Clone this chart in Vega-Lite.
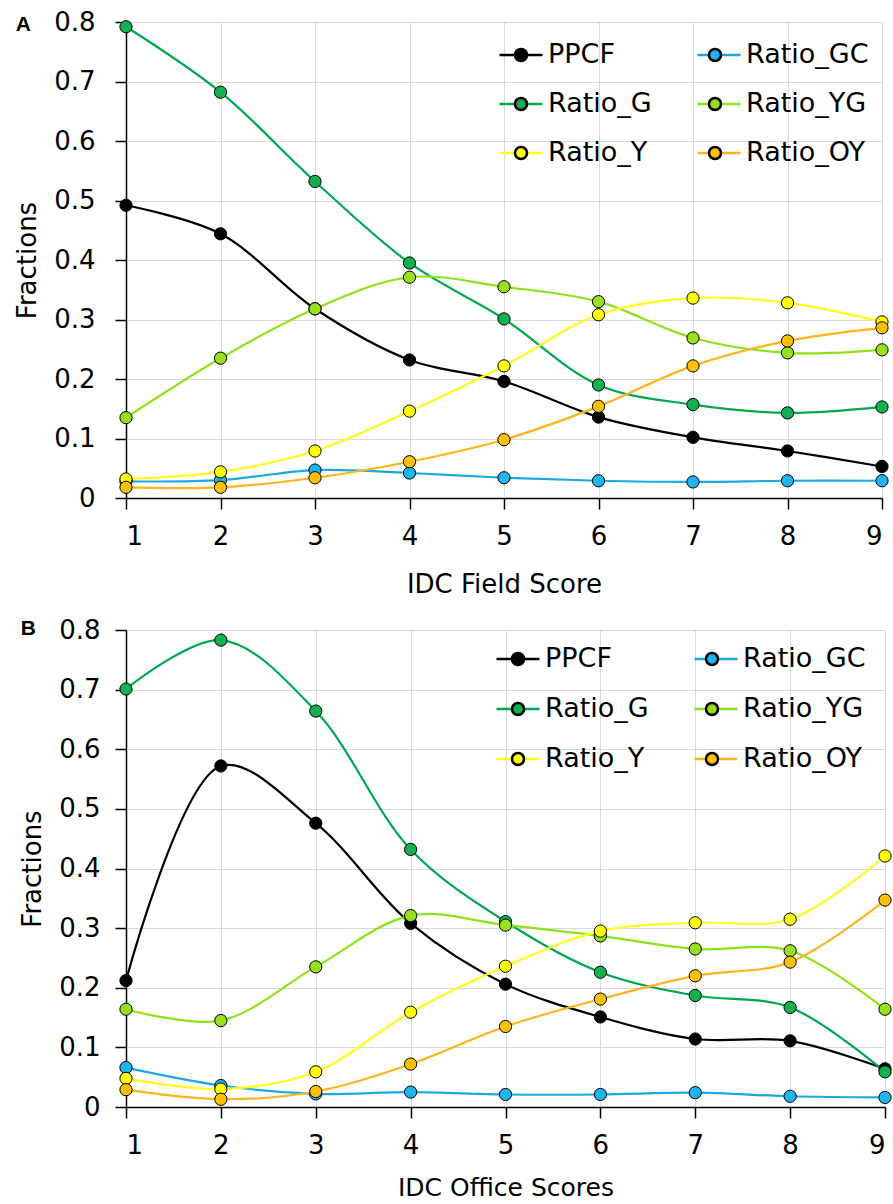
{
  "$schema": "https://vega.github.io/schema/vega-lite/v6.json",
  "background": "white",
  "padding": {"left": 14, "top": 9, "right": 0, "bottom": 0},
  "config": {
    "font": "DejaVu Sans",
    "view": {"stroke": null},
    "axis": {
      "labelFont": "DejaVu Sans", "titleFont": "DejaVu Sans",
      "labelColor": "black", "titleColor": "black", "titleFontWeight": "normal",
      "gridColor": "#d9d9d9", "gridWidth": 1,
      "domainColor": "black", "tickColor": "black", "domainWidth": 1.5, "tickWidth": 1.5
    },
    "title": {"font": "Liberation Sans", "fontWeight": "bold", "fontSize": 21, "color": "black"}
  },
  "datasets": {
    "d": [
      {"panel": "A", "score": 1, "series": "PPCF", "value": 0.492},
      {"panel": "A", "score": 2, "series": "PPCF", "value": 0.444},
      {"panel": "A", "score": 3, "series": "PPCF", "value": 0.318},
      {"panel": "A", "score": 4, "series": "PPCF", "value": 0.232},
      {"panel": "A", "score": 5, "series": "PPCF", "value": 0.196},
      {"panel": "A", "score": 6, "series": "PPCF", "value": 0.136},
      {"panel": "A", "score": 7, "series": "PPCF", "value": 0.102},
      {"panel": "A", "score": 8, "series": "PPCF", "value": 0.079},
      {"panel": "A", "score": 9, "series": "PPCF", "value": 0.053},
      {"panel": "A", "score": 1, "series": "Ratio_GC", "value": 0.028},
      {"panel": "A", "score": 2, "series": "Ratio_GC", "value": 0.030},
      {"panel": "A", "score": 3, "series": "Ratio_GC", "value": 0.047},
      {"panel": "A", "score": 4, "series": "Ratio_GC", "value": 0.042},
      {"panel": "A", "score": 5, "series": "Ratio_GC", "value": 0.034},
      {"panel": "A", "score": 6, "series": "Ratio_GC", "value": 0.029},
      {"panel": "A", "score": 7, "series": "Ratio_GC", "value": 0.027},
      {"panel": "A", "score": 8, "series": "Ratio_GC", "value": 0.029},
      {"panel": "A", "score": 9, "series": "Ratio_GC", "value": 0.029},
      {"panel": "A", "score": 1, "series": "Ratio_G", "value": 0.792},
      {"panel": "A", "score": 2, "series": "Ratio_G", "value": 0.682},
      {"panel": "A", "score": 3, "series": "Ratio_G", "value": 0.532},
      {"panel": "A", "score": 4, "series": "Ratio_G", "value": 0.395},
      {"panel": "A", "score": 5, "series": "Ratio_G", "value": 0.301},
      {"panel": "A", "score": 6, "series": "Ratio_G", "value": 0.190},
      {"panel": "A", "score": 7, "series": "Ratio_G", "value": 0.157},
      {"panel": "A", "score": 8, "series": "Ratio_G", "value": 0.143},
      {"panel": "A", "score": 9, "series": "Ratio_G", "value": 0.153},
      {"panel": "A", "score": 1, "series": "Ratio_YG", "value": 0.135},
      {"panel": "A", "score": 2, "series": "Ratio_YG", "value": 0.235},
      {"panel": "A", "score": 3, "series": "Ratio_YG", "value": 0.318},
      {"panel": "A", "score": 4, "series": "Ratio_YG", "value": 0.371},
      {"panel": "A", "score": 5, "series": "Ratio_YG", "value": 0.355},
      {"panel": "A", "score": 6, "series": "Ratio_YG", "value": 0.330},
      {"panel": "A", "score": 7, "series": "Ratio_YG", "value": 0.269},
      {"panel": "A", "score": 8, "series": "Ratio_YG", "value": 0.244},
      {"panel": "A", "score": 9, "series": "Ratio_YG", "value": 0.249},
      {"panel": "A", "score": 1, "series": "Ratio_Y", "value": 0.032},
      {"panel": "A", "score": 2, "series": "Ratio_Y", "value": 0.044},
      {"panel": "A", "score": 3, "series": "Ratio_Y", "value": 0.079},
      {"panel": "A", "score": 4, "series": "Ratio_Y", "value": 0.146},
      {"panel": "A", "score": 5, "series": "Ratio_Y", "value": 0.222},
      {"panel": "A", "score": 6, "series": "Ratio_Y", "value": 0.308},
      {"panel": "A", "score": 7, "series": "Ratio_Y", "value": 0.336},
      {"panel": "A", "score": 8, "series": "Ratio_Y", "value": 0.328},
      {"panel": "A", "score": 9, "series": "Ratio_Y", "value": 0.296},
      {"panel": "A", "score": 1, "series": "Ratio_OY", "value": 0.018},
      {"panel": "A", "score": 2, "series": "Ratio_OY", "value": 0.018},
      {"panel": "A", "score": 3, "series": "Ratio_OY", "value": 0.034},
      {"panel": "A", "score": 4, "series": "Ratio_OY", "value": 0.061},
      {"panel": "A", "score": 5, "series": "Ratio_OY", "value": 0.098},
      {"panel": "A", "score": 6, "series": "Ratio_OY", "value": 0.154},
      {"panel": "A", "score": 7, "series": "Ratio_OY", "value": 0.222},
      {"panel": "A", "score": 8, "series": "Ratio_OY", "value": 0.264},
      {"panel": "A", "score": 9, "series": "Ratio_OY", "value": 0.286},
      {"panel": "B", "score": 1, "series": "PPCF", "value": 0.212},
      {"panel": "B", "score": 2, "series": "PPCF", "value": 0.572},
      {"panel": "B", "score": 3, "series": "PPCF", "value": 0.476},
      {"panel": "B", "score": 4, "series": "PPCF", "value": 0.308},
      {"panel": "B", "score": 5, "series": "PPCF", "value": 0.206},
      {"panel": "B", "score": 6, "series": "PPCF", "value": 0.151},
      {"panel": "B", "score": 7, "series": "PPCF", "value": 0.114},
      {"panel": "B", "score": 8, "series": "PPCF", "value": 0.111},
      {"panel": "B", "score": 9, "series": "PPCF", "value": 0.064},
      {"panel": "B", "score": 1, "series": "Ratio_GC", "value": 0.066},
      {"panel": "B", "score": 2, "series": "Ratio_GC", "value": 0.036},
      {"panel": "B", "score": 3, "series": "Ratio_GC", "value": 0.022},
      {"panel": "B", "score": 4, "series": "Ratio_GC", "value": 0.025},
      {"panel": "B", "score": 5, "series": "Ratio_GC", "value": 0.021},
      {"panel": "B", "score": 6, "series": "Ratio_GC", "value": 0.021},
      {"panel": "B", "score": 7, "series": "Ratio_GC", "value": 0.024},
      {"panel": "B", "score": 8, "series": "Ratio_GC", "value": 0.018},
      {"panel": "B", "score": 9, "series": "Ratio_GC", "value": 0.016},
      {"panel": "B", "score": 1, "series": "Ratio_G", "value": 0.701},
      {"panel": "B", "score": 2, "series": "Ratio_G", "value": 0.783},
      {"panel": "B", "score": 3, "series": "Ratio_G", "value": 0.664},
      {"panel": "B", "score": 4, "series": "Ratio_G", "value": 0.432},
      {"panel": "B", "score": 5, "series": "Ratio_G", "value": 0.311},
      {"panel": "B", "score": 6, "series": "Ratio_G", "value": 0.226},
      {"panel": "B", "score": 7, "series": "Ratio_G", "value": 0.187},
      {"panel": "B", "score": 8, "series": "Ratio_G", "value": 0.167},
      {"panel": "B", "score": 9, "series": "Ratio_G", "value": 0.059},
      {"panel": "B", "score": 1, "series": "Ratio_YG", "value": 0.164},
      {"panel": "B", "score": 2, "series": "Ratio_YG", "value": 0.145},
      {"panel": "B", "score": 3, "series": "Ratio_YG", "value": 0.235},
      {"panel": "B", "score": 4, "series": "Ratio_YG", "value": 0.321},
      {"panel": "B", "score": 5, "series": "Ratio_YG", "value": 0.305},
      {"panel": "B", "score": 6, "series": "Ratio_YG", "value": 0.287},
      {"panel": "B", "score": 7, "series": "Ratio_YG", "value": 0.265},
      {"panel": "B", "score": 8, "series": "Ratio_YG", "value": 0.262},
      {"panel": "B", "score": 9, "series": "Ratio_YG", "value": 0.164},
      {"panel": "B", "score": 1, "series": "Ratio_Y", "value": 0.048},
      {"panel": "B", "score": 2, "series": "Ratio_Y", "value": 0.030},
      {"panel": "B", "score": 3, "series": "Ratio_Y", "value": 0.059},
      {"panel": "B", "score": 4, "series": "Ratio_Y", "value": 0.159},
      {"panel": "B", "score": 5, "series": "Ratio_Y", "value": 0.236},
      {"panel": "B", "score": 6, "series": "Ratio_Y", "value": 0.295},
      {"panel": "B", "score": 7, "series": "Ratio_Y", "value": 0.309},
      {"panel": "B", "score": 8, "series": "Ratio_Y", "value": 0.315},
      {"panel": "B", "score": 9, "series": "Ratio_Y", "value": 0.421},
      {"panel": "B", "score": 1, "series": "Ratio_OY", "value": 0.029},
      {"panel": "B", "score": 2, "series": "Ratio_OY", "value": 0.013},
      {"panel": "B", "score": 3, "series": "Ratio_OY", "value": 0.026},
      {"panel": "B", "score": 4, "series": "Ratio_OY", "value": 0.072},
      {"panel": "B", "score": 5, "series": "Ratio_OY", "value": 0.135},
      {"panel": "B", "score": 6, "series": "Ratio_OY", "value": 0.181},
      {"panel": "B", "score": 7, "series": "Ratio_OY", "value": 0.220},
      {"panel": "B", "score": 8, "series": "Ratio_OY", "value": 0.243},
      {"panel": "B", "score": 9, "series": "Ratio_OY", "value": 0.347}
    ]
  },
  "spacing": 20,
  "align": "none",
  "resolve": {
    "scale": {"stroke": "independent", "fill": "independent"},
    "legend": {"stroke": "independent", "fill": "independent"}
  },
  "vconcat": [
    {
      "width": 756, "height": 476,
      "title": {"text": "A", "anchor": "start", "frame": "bounds", "dy": 30, "dx": 1},
      "data": {"name": "d"},
      "transform": [{"filter": "datum.panel == 'A'"}],
      "encoding": {
        "x": {"field": "score", "type": "quantitative", "scale": {"domain": [1, 9], "nice": false, "zero": false},
          "axis": {"values": [1, 2, 3, 4, 5, 6, 7, 8, 9], "format": "d", "title": "IDC Field Score", "grid": true,
            "labelFontSize": 26, "tickSize": 11, "labelPadding": 14, "titleFontSize": 26, "titlePadding": 22}},
        "y": {"field": "value", "type": "quantitative", "scale": {"domain": [0, 0.8], "nice": false},
          "axis": {"values": [0, 0.1, 0.2, 0.3, 0.4, 0.5, 0.6, 0.7, 0.8], "labelExpr": "datum.value == 0 ? '0' : format(datum.value, '.1f')",
            "title": "Fractions", "grid": true, "labelFontSize": 26, "tickSize": 11, "labelPadding": 20, "titleFontSize": 26, "titlePadding": 13}}
      },
      "layer": [
        {
          "mark": {"type": "line", "interpolate": "catmull-rom", "strokeWidth": 2.2},
          "encoding": {
            "stroke": {"field": "series", "type": "nominal",
              "scale": {"domain": ["PPCF", "Ratio_G", "Ratio_Y", "Ratio_GC", "Ratio_YG", "Ratio_OY"],
                "range": ["#000000", "#00A650", "#FFFF1A", "#1BA9E0", "#8EE21A", "#FFB41C"]},
              "legend": {"title": null, "orient": "none", "legendX": 372, "legendY": 10, "columns": 2,
                "symbolType": "M-1,0H1", "symbolSize": 1849, "symbolStrokeWidth": 2.5,
                "labelFontSize": 27, "labelFont": "DejaVu Sans", "labelColor": "black", "labelOffset": 4,
                "rowPadding": 13, "columnPadding": 40, "labelLimit": 300}}
          }
        },
        {
          "mark": {"type": "point", "shape": "circle", "filled": true, "size": 150, "stroke": "black", "strokeWidth": 1, "opacity": 1, "fillOpacity": 1, "strokeOpacity": 1},
          "encoding": {
            "fill": {"field": "series", "type": "nominal",
              "scale": {"domain": ["PPCF", "Ratio_G", "Ratio_Y", "Ratio_GC", "Ratio_YG", "Ratio_OY", "none"],
                "range": ["#000000", "#12B050", "#FFFF00", "#1EB4F0", "#96E01E", "#FFC000", "#ffffff"]},
              "legend": {"title": null, "orient": "none", "legendX": 372, "legendY": 10, "columns": 2,
                "values": ["PPCF", "Ratio_G", "Ratio_Y", "Ratio_GC", "Ratio_YG", "Ratio_OY"],
                "labelExpr": "''",
                "symbolType": "M0.28,0A0.28,0.28 0 1,1 -0.28,0A0.28,0.28 0 1,1 0.28,0Z", "symbolSize": 1849,
                "symbolStrokeWidth": 2.5, "symbolStrokeColor": "black",
                "labelFontSize": 27, "labelFont": "DejaVu Sans", "labelColor": "black", "labelOffset": 4,
                "rowPadding": 13, "columnPadding": 144, "labelLimit": 300,
                "encode": {"symbols": {"update": {"stroke": {"value": "black"}, "strokeWidth": {"value": 1}}}}}}
          }
        }
      ]
    },
    {
      "width": 759, "height": 477,
      "title": {"text": "B", "anchor": "start", "frame": "bounds", "dy": 26, "dx": 1},
      "data": {"name": "d"},
      "transform": [{"filter": "datum.panel == 'B'"}],
      "encoding": {
        "x": {"field": "score", "type": "quantitative", "scale": {"domain": [1, 9], "nice": false, "zero": false},
          "axis": {"values": [1, 2, 3, 4, 5, 6, 7, 8, 9], "format": "d", "title": "IDC Office Scores", "grid": true,
            "labelFontSize": 26, "tickSize": 11, "labelPadding": 14, "titleFontSize": 25, "titlePadding": 17}},
        "y": {"field": "value", "type": "quantitative", "scale": {"domain": [0, 0.8], "nice": false},
          "axis": {"values": [0, 0.1, 0.2, 0.3, 0.4, 0.5, 0.6, 0.7, 0.8], "labelExpr": "datum.value == 0 ? '0' : format(datum.value, '.1f')",
            "title": "Fractions", "grid": true, "labelFontSize": 26, "tickSize": 11, "labelPadding": 15, "titleFontSize": 26, "titlePadding": 13}}
      },
      "layer": [
        {
          "mark": {"type": "line", "interpolate": "catmull-rom", "strokeWidth": 2.2},
          "encoding": {
            "stroke": {"field": "series", "type": "nominal",
              "scale": {"domain": ["PPCF", "Ratio_G", "Ratio_Y", "Ratio_GC", "Ratio_YG", "Ratio_OY"],
                "range": ["#000000", "#00A650", "#FFFF1A", "#1BA9E0", "#8EE21A", "#FFB41C"]},
              "legend": {"title": null, "orient": "none", "legendX": 369, "legendY": 6, "columns": 2,
                "symbolType": "M-1,0H1", "symbolSize": 1849, "symbolStrokeWidth": 2.5,
                "labelFontSize": 27, "labelFont": "DejaVu Sans", "labelColor": "black", "labelOffset": 4,
                "rowPadding": 14, "columnPadding": 40, "labelLimit": 300}}
          }
        },
        {
          "mark": {"type": "point", "shape": "circle", "filled": true, "size": 150, "stroke": "black", "strokeWidth": 1, "opacity": 1, "fillOpacity": 1, "strokeOpacity": 1},
          "encoding": {
            "fill": {"field": "series", "type": "nominal",
              "scale": {"domain": ["PPCF", "Ratio_G", "Ratio_Y", "Ratio_GC", "Ratio_YG", "Ratio_OY", "none"],
                "range": ["#000000", "#12B050", "#FFFF00", "#1EB4F0", "#96E01E", "#FFC000", "#ffffff"]},
              "legend": {"title": null, "orient": "none", "legendX": 369, "legendY": 6, "columns": 2,
                "values": ["PPCF", "Ratio_G", "Ratio_Y", "Ratio_GC", "Ratio_YG", "Ratio_OY"],
                "labelExpr": "''",
                "symbolType": "M0.28,0A0.28,0.28 0 1,1 -0.28,0A0.28,0.28 0 1,1 0.28,0Z", "symbolSize": 1849,
                "symbolStrokeWidth": 2.5, "symbolStrokeColor": "black",
                "labelFontSize": 27, "labelFont": "DejaVu Sans", "labelColor": "black", "labelOffset": 4,
                "rowPadding": 14, "columnPadding": 144, "labelLimit": 300,
                "encode": {"symbols": {"update": {"stroke": {"value": "black"}, "strokeWidth": {"value": 1}}}}}}
          }
        }
      ]
    }
  ]
}
